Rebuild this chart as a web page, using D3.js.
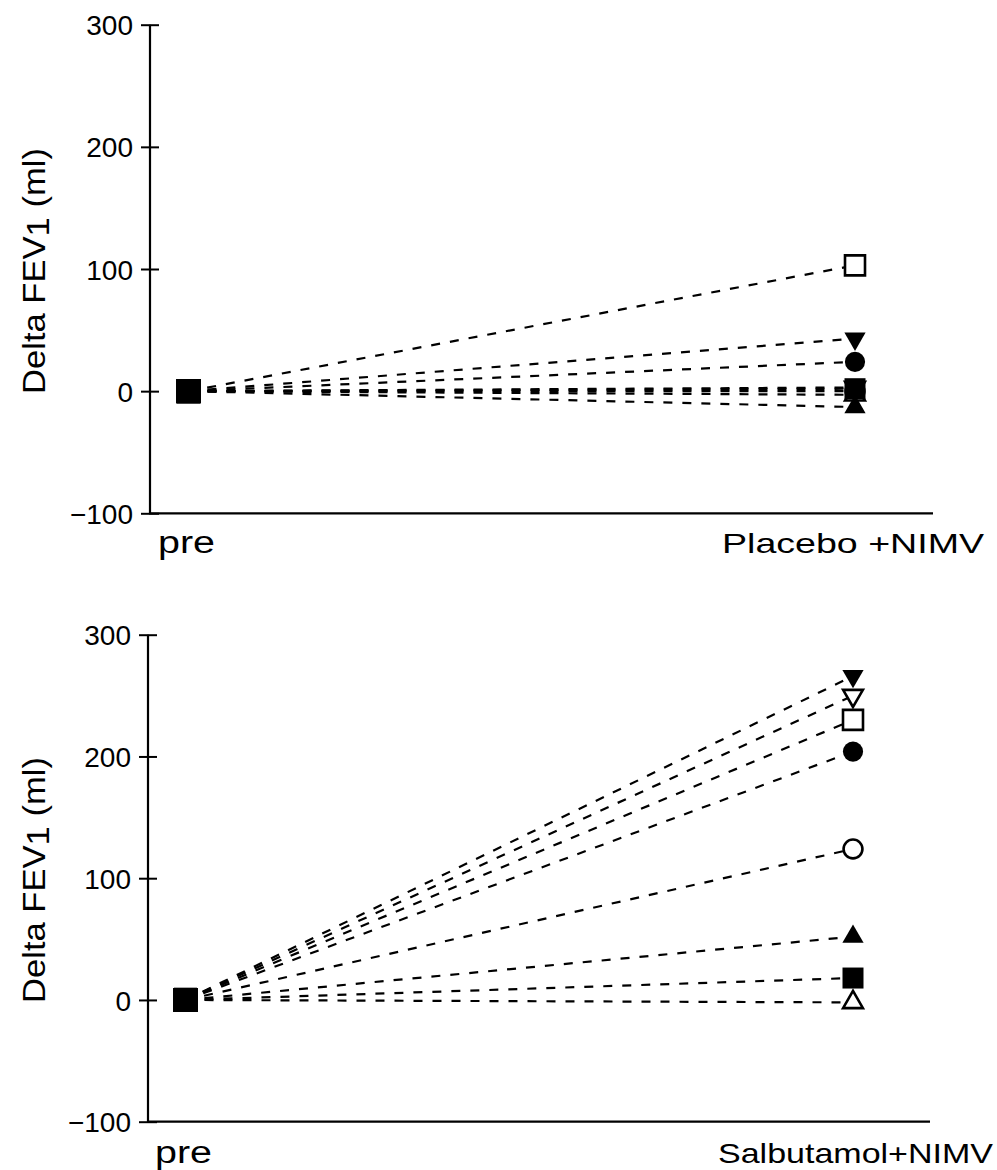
<!DOCTYPE html>
<html><head><meta charset="utf-8">
<script src="https://cdn.jsdelivr.net/npm/d3@7"></script>
<style>body{margin:0;background:#fff}</style>
</head><body><svg id="c" width="997" height="1170"></svg>
<script>
// ---- data ----
const subjects = ["S1","S2","S3","S4","S5","S6","S7","S8"];
const markerShapes = ["triangle-down-open","circle-open","triangle-up-open","square-filled","triangle-up-filled","circle-filled","triangle-down-filled","square-open"];
const yTicks = [-100, 0, 100, 200, 300];
const preValues        = [0, 0, 0, 0, 0, 0, 0, 0];
const placeboValues    = [3, 0, -3, 2, -13, 24, 43, 103];
const salbutamolValues = [250, 124, -2, 18, 52, 204, 266, 230];
const topCategories    = ["pre", "Placebo +NIMV"];
const bottomCategories = ["pre", "Salbutamol+NIMV"];
const yLabelMain = "Delta FEV";
const yLabelSub = "1";
const yLabelUnit = " (ml)";

const svg = d3.select("#c");
const FONT = "'Liberation Sans', Arial, sans-serif";

function symbolFor(shape) {
  if (shape.startsWith("square")) return d3.symbol(d3.symbolSquare, shape.endsWith("open") ? 400 : 441)();
  if (shape.startsWith("circle")) return d3.symbol(d3.symbolCircle, shape.endsWith("open") ? 280 : 320)();
  return d3.symbol(d3.symbolTriangle, shape.endsWith("open") ? 170 : 195)();
}

function drawPanel(cfg, categories, postValues) {
  const g = svg.append("g");
  const y = d3.scaleLinear().domain([-100, 300]).range([cfg.yBottom, cfg.yTop]);
  const x = d3.scalePoint().domain(categories).range([cfg.xPre, cfg.xPost]);

  // y axis
  const ax = g.append("g").attr("transform", `translate(${cfg.axisX},0)`)
    .call(d3.axisLeft(y).tickValues(yTicks).tickSize(9).tickPadding(8)
      .tickFormat(d => d < 0 ? "\u2212" + Math.abs(d) : d));
  ax.select(".domain").attr("stroke", "#000").attr("stroke-width", 2.2)
    .attr("d", `M0,${cfg.yTop}V${cfg.yBottom}`);
  ax.selectAll(".tick line").attr("x1", 9).attr("x2", -9).attr("stroke", "#000").attr("stroke-width", 2);
  ax.selectAll(".tick text").attr("x", -17).attr("dy", "0.36em").style("font-family", FONT).style("font-size", "28px").attr("fill", "#000");

  // x axis baseline
  g.append("line").attr("x1", cfg.axisX - 1).attr("x2", cfg.xAxisEnd)
    .attr("y1", y(-100)).attr("y2", y(-100)).attr("stroke", "#000").attr("stroke-width", 2.2);

  // category labels
  g.append("text").attr("x", cfg.preLabelX).attr("y", cfg.catBaseline)
    .attr("textLength", 57).attr("lengthAdjust", "spacingAndGlyphs")
    .style("font-family", FONT).style("font-size", "31px").text(categories[0]);
  g.append("text").attr("x", cfg.postLabelX).attr("y", cfg.catBaseline)
    .attr("textLength", cfg.postLabelW).attr("lengthAdjust", "spacingAndGlyphs")
    .style("font-family", FONT).style("font-size", "28px").text(categories[1]);

  // y label
  const lt = g.append("text")
    .attr("transform", `translate(${cfg.yLabelX},${cfg.yLabelY}) rotate(-90)`)
    .attr("text-anchor", "middle")
    .style("font-family", FONT).style("font-size", "32px")
    .attr("textLength", 246).attr("lengthAdjust", "spacingAndGlyphs");
  lt.append("tspan").text(yLabelMain);
  lt.append("tspan").attr("dy", 4).text(yLabelSub);
  lt.append("tspan").attr("dy", -4).text(yLabelUnit);

  // lines
  g.append("g").selectAll("line").data(subjects).join("line")
    .attr("x1", x(categories[0])).attr("y1", (d, i) => y(preValues[i]))
    .attr("x2", x(categories[1])).attr("y2", (d, i) => y(postValues[i]))
    .attr("stroke", "#000").attr("stroke-width", 2.2).attr("stroke-dasharray", "9,10");

  // post markers
  g.append("g").selectAll("path").data(subjects).join("path")
    .attr("d", (d, i) => symbolFor(markerShapes[i]))
    .attr("transform", (d, i) => {
      const rot = markerShapes[i].startsWith("triangle-down") ? " rotate(180)" : "";
      return `translate(${x(categories[1])},${y(postValues[i])})${rot}`;
    })
    .attr("fill", (d, i) => markerShapes[i].endsWith("open") ? "#fff" : "#000")
    .attr("stroke", "#000").attr("stroke-width", (d, i) => markerShapes[i].endsWith("open") ? 2.6 : 0);

  // pre markers (all filled squares at 0)
  g.append("g").selectAll("path").data(subjects).join("path")
    .attr("d", d3.symbol(d3.symbolSquare, 576)())
    .attr("transform", (d, i) => `translate(${x(categories[0])},${y(preValues[i])})`)
    .attr("fill", "#000");
}

drawPanel({axisX: 150, yTop: 24.7, yBottom: 513.3, xPre: 188.5, xPost: 855, xAxisEnd: 933,
  preLabelX: 158, postLabelX: 722, postLabelW: 262, catBaseline: 553, yLabelX: 45, yLabelY: 271},
  topCategories, placeboValues);
drawPanel({axisX: 148, yTop: 634.7, yBottom: 1121.7, xPre: 185.5, xPost: 853, xAxisEnd: 930,
  preLabelX: 155, postLabelX: 718, postLabelW: 275, catBaseline: 1163, yLabelX: 45, yLabelY: 880},
  bottomCategories, salbutamolValues);
</script>
</body></html>
